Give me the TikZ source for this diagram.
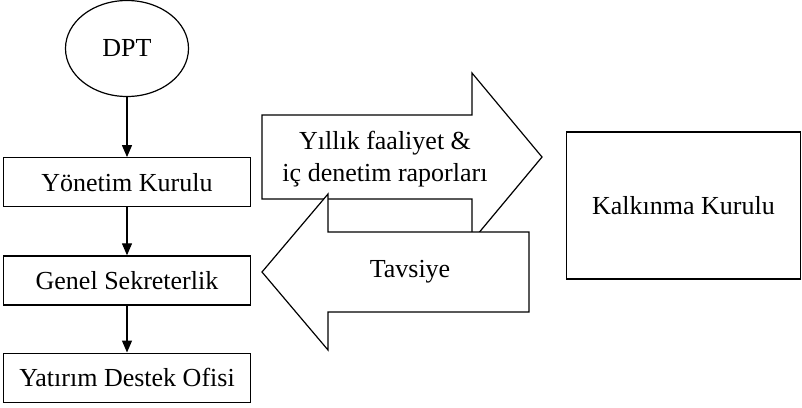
\documentclass[tikz,border=0pt]{standalone}
\usepackage{fontspec}
\setmainfont{Liberation Serif}
\usetikzlibrary{positioning,arrows.meta,shapes.geometric}
\tikzset{%
  kutu/.style={
    draw,
    line width=0.6pt,
    minimum width=123.5pt,
    minimum height=24.5pt,
    inner sep=0pt
  },
  buyuk ok/.style={
    draw,
    fill=white,
    line width=0.6pt,
    line join=miter
  },
}

\begin{document}
\begin{tikzpicture}[x=0.5pt,y=-0.5pt,>={Triangle[width=5pt,length=6pt]},font=\fontsize{13}{16}\selectfont]
        \tikzstyle{oval}=[draw,line width=0.6pt,ellipse,minimum width=61.5pt,minimum height=48pt,inner sep=0pt]
        \useasboundingbox (0,0) rectangle (802,407);

        \node[oval] (dpt) at (127,48.5) {DPT};
        \node[kutu,below=30pt of dpt] (yk) {Yönetim Kurulu};
        \node[kutu,below=24pt of yk] (gs) {Genel Sekreterlik};
        \node[kutu,below=23.5pt of gs] (ydo) {Yatırım Destek Ofisi};
        \node[kutu,minimum width=117pt,minimum height=73.5pt] (kk) at (683.5,205.5) {Kalkınma Kurulu};

        \draw[->,line width=0.6pt] (dpt) -- (yk);
        \draw[->,line width=0.6pt] (yk) -- (gs);
        \draw[->,line width=0.6pt] (gs) -- (ydo);

        % rapor oku ve tavsiye oku
        \draw[buyuk ok] (262,115) -- (472,115) -- (472,73) -- (542,157) -- (472,241) -- (472,199) -- (262,199) -- cycle;
        \draw[buyuk ok] (529,232) -- (328,232) -- (328,194) -- (262,272) -- (328,350) -- (328,312) -- (529,312) -- cycle;

        \node[align=center] (rapor) at (385,159) {Yıllık faaliyet \&\\iç denetim raporları};
        \node (tavsiye) at (410,272) {Tavsiye};
    \end{tikzpicture}
\end{document}
